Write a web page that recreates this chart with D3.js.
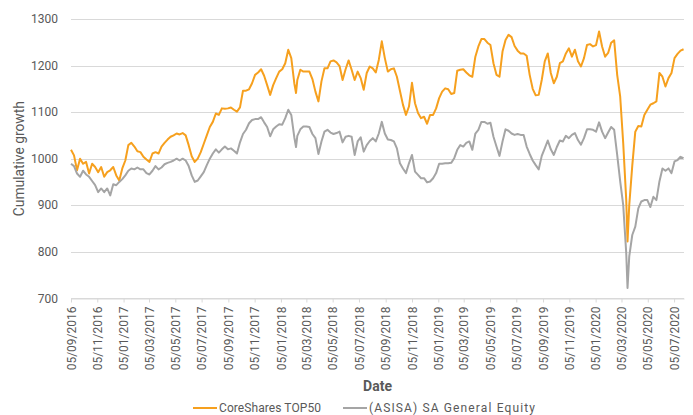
<!DOCTYPE html>
<html lang="en">
<head>
<meta charset="utf-8">
<title>Cumulative growth</title>
<script src="https://cdn.jsdelivr.net/npm/d3@7"></script>
<style>
  body { margin: 0; background: #fff; }
  text { font-family: Roboto, "DejaVu Sans", sans-serif; fill: #595959; }
</style>
</head>
<body>
<div id="chart"></div>
<script>

/*
 * Data (roughly weekly)
 */

var dates = [
  "2016-09-05","2016-09-12","2016-09-19","2016-09-26","2016-10-03","2016-10-10","2016-10-17","2016-10-24","2016-10-31",
  "2016-11-07","2016-11-14","2016-11-21","2016-11-28","2016-12-05","2016-12-12","2016-12-19","2016-12-26",
  "2017-01-02","2017-01-09","2017-01-16","2017-01-23","2017-01-30","2017-02-06","2017-02-13","2017-02-20","2017-02-27",
  "2017-03-06","2017-03-13","2017-03-20","2017-03-27","2017-04-03","2017-04-10","2017-04-17","2017-04-24",
  "2017-05-01","2017-05-08","2017-05-15","2017-05-22","2017-05-29","2017-06-05","2017-06-12","2017-06-19","2017-06-26",
  "2017-07-03","2017-07-10","2017-07-17","2017-07-24","2017-07-31","2017-08-07","2017-08-14","2017-08-21","2017-08-28",
  "2017-09-04","2017-09-11","2017-09-18","2017-09-25","2017-10-02","2017-10-09","2017-10-16","2017-10-23","2017-10-30",
  "2017-11-06","2017-11-13","2017-11-20","2017-11-27","2017-12-04","2017-12-11","2017-12-18","2017-12-25",
  "2018-01-01","2018-01-08","2018-01-15","2018-01-22","2018-01-29","2018-02-05","2018-02-09","2018-02-12","2018-02-19","2018-02-26",
  "2018-03-05","2018-03-12","2018-03-19","2018-03-26","2018-04-02","2018-04-09","2018-04-16","2018-04-23","2018-04-30",
  "2018-05-07","2018-05-14","2018-05-21","2018-05-28","2018-06-04","2018-06-11","2018-06-18","2018-06-25",
  "2018-07-02","2018-07-09","2018-07-16","2018-07-23","2018-07-30","2018-08-06","2018-08-13","2018-08-20","2018-08-27",
  "2018-09-03","2018-09-10","2018-09-17","2018-09-24","2018-10-01","2018-10-08","2018-10-15","2018-10-22","2018-10-29",
  "2018-11-05","2018-11-12","2018-11-19","2018-11-26","2018-12-03","2018-12-10","2018-12-17","2018-12-24","2018-12-31",
  "2019-01-07","2019-01-14","2019-01-21","2019-01-28","2019-02-04","2019-02-11","2019-02-18","2019-02-25",
  "2019-03-04","2019-03-11","2019-03-18","2019-03-25","2019-04-01","2019-04-08","2019-04-15","2019-04-22","2019-04-29",
  "2019-05-06","2019-05-13","2019-05-20","2019-05-27","2019-06-03","2019-06-10","2019-06-17","2019-06-24",
  "2019-07-01","2019-07-08","2019-07-15","2019-07-22","2019-07-29","2019-08-05","2019-08-12","2019-08-19","2019-08-26",
  "2019-09-02","2019-09-09","2019-09-16","2019-09-23","2019-09-30","2019-10-07","2019-10-14","2019-10-21","2019-10-28",
  "2019-11-04","2019-11-11","2019-11-18","2019-11-25","2019-12-02","2019-12-09","2019-12-16","2019-12-23","2019-12-30",
  "2020-01-06","2020-01-13","2020-01-20","2020-01-27","2020-02-03","2020-02-10","2020-02-17","2020-02-24",
  "2020-03-02","2020-03-09","2020-03-16","2020-03-19","2020-03-23","2020-03-30","2020-04-06","2020-04-13","2020-04-20","2020-04-27",
  "2020-05-04","2020-05-11","2020-05-18","2020-05-25","2020-06-01","2020-06-08","2020-06-15","2020-06-22","2020-06-29",
  "2020-07-06","2020-07-13","2020-07-20","2020-07-27"
];

var coreShares = [
  1019,1007,975,1000,989,993,968,989,982,
  971,982,961,971,975,982,964,953,
  979,996,1029,1034,1026,1016,1014,1004,998,
  993,1011,1014,1011,1026,1034,1041,1047,
  1050,1054,1052,1055,1050,1029,1005,993,1000,
  1014,1032,1050,1068,1079,1097,1094,1108,1107,
  1108,1110,1105,1101,1110,1146,1146,1149,1162,
  1180,1185,1192,1178,1158,1137,1158,1173,
  1187,1192,1205,1234,1216,1162,1141,1169,1191,1187,
  1187,1187,1171,1144,1123,1166,1194,1194,1209,
  1211,1207,1199,1169,1192,1211,1191,1169,
  1187,1173,1148,1184,1198,1194,1185,1212,1252,
  1216,1187,1192,1194,1176,1146,1116,1094,1112,
  1163,1119,1098,1087,1090,1075,1094,1094,1108,
  1130,1144,1151,1149,1139,1141,1189,1191,
  1192,1185,1179,1176,1219,1241,1257,1257,1249,
  1244,1205,1180,1176,1230,1255,1266,1261,
  1242,1232,1226,1226,1221,1180,1150,1136,1137,
  1169,1209,1226,1184,1162,1176,1205,1209,1226,
  1237,1219,1234,1209,1198,1216,1244,1246,1241,
  1244,1273,1241,1219,1227,1249,1254,1180,
  1133,1033,911,822,900,985,1058,1070,1069,1094,
  1105,1116,1119,1123,1184,1176,1155,1173,1184,
  1216,1225,1232,1235
];

var asisaEquity = [
  989,984,968,961,974,966,961,952,943,
  928,936,928,936,921,945,943,950,
  956,964,974,979,977,981,977,977,969,
  966,974,984,977,981,988,991,993,
  996,1000,996,1000,996,984,964,950,953,
  962,971,986,1000,1011,1020,1013,1020,1026,
  1020,1022,1017,1011,1035,1053,1062,1076,1083,
  1085,1085,1089,1078,1068,1048,1063,1069,
  1074,1073,1087,1105,1094,1046,1025,1049,1063,1069,
  1069,1068,1053,1044,1010,1037,1058,1062,1056,
  1053,1055,1058,1035,1047,1049,1047,1008,
  1037,1046,1015,1029,1038,1044,1037,1054,1079,
  1054,1041,1040,1037,1022,990,979,969,990,
  1008,972,965,958,958,949,951,958,969,
  989,989,990,990,991,1001,1019,1029,
  1026,1034,1037,1019,1054,1062,1079,1079,1075,
  1077,1047,1026,1006,1037,1063,1060,1054,
  1051,1053,1051,1051,1026,1010,996,986,977,
  1006,1022,1039,1020,1008,1025,1039,1037,1049,
  1044,1051,1055,1040,1030,1044,1063,1063,1062,
  1058,1078,1058,1044,1056,1068,1062,1008,
  951,900,797,722,790,836,854,893,908,911,
  911,896,918,911,951,979,974,979,969,
  994,997,1004,1001
];

var seriesNames  = ["CoreShares TOP50", "(ASISA) SA General Equity"];
var seriesColors = ["#f6a01e", "#a5a5a5"];

var yTicks = [700, 800, 900, 1000, 1100, 1200, 1300];

var xTickLabels = [
  "05/09/2016","05/11/2016","05/01/2017","05/03/2017","05/05/2017","05/07/2017","05/09/2017","05/11/2017",
  "05/01/2018","05/03/2018","05/05/2018","05/07/2018","05/09/2018","05/11/2018","05/01/2019","05/03/2019",
  "05/05/2019","05/07/2019","05/09/2019","05/11/2019","05/01/2020","05/03/2020","05/05/2020","05/07/2020"
];

/*
 * Frame
 */

var w = 693,
    h = 415;

var plotLeft = 71, plotRight = 684, plotTop = 19, plotBottom = 298.3;

var parseDate = d3.timeParse("%Y-%m-%d");
var parseTick = d3.timeParse("%d/%m/%Y");

var svg = d3.select("#chart")
  .append("svg")
  .attr("width", w)
  .attr("height", h);

var xScale = d3.scaleTime()
  .domain([parseTick(xTickLabels[0]), parseDate("2020-07-28")])
  .range([plotLeft, plotRight]);

var yScale = d3.scaleLinear()
  .domain([700, 1300])
  .range([plotBottom, plotTop]);

// horizontal gridlines
svg.append("g")
  .selectAll("line")
  .data(yTicks)
  .enter()
  .append("line")
  .attr("x1", plotLeft)
  .attr("x2", plotRight)
  .attr("y1", function(d) { return Math.round(yScale(d)) + 0.5; })
  .attr("y2", function(d) { return Math.round(yScale(d)) + 0.5; })
  .style("stroke", "#d9d9d9")
  .style("stroke-width", 1);

// y labels
svg.append("g")
  .selectAll("text")
  .data(yTicks)
  .enter()
  .append("text")
  .attr("x", 58)
  .attr("y", function(d) { return yScale(d); })
  .attr("dy", "0.35em")
  .attr("text-anchor", "end")
  .style("font-size", "12px")
  .text(function(d) { return d; });

// x axis
var xAxis = d3.axisBottom(xScale)
  .tickValues(xTickLabels.map(parseTick))
  .tickFormat(d3.timeFormat("%d/%m/%Y"))
  .tickSize(4)
  .tickSizeOuter(0);

var gX = svg.append("g")
  .attr("transform", "translate(0," + (Math.round(plotBottom) + 0.5) + ")")
  .call(xAxis);

gX.select(".domain").style("stroke", "#d9d9d9");
gX.selectAll(".tick line").style("stroke", "#d9d9d9");
gX.selectAll(".tick text")
  .attr("transform", "rotate(-90)")
  .attr("x", -8)
  .attr("y", 0)
  .attr("dy", "0.35em")
  .attr("text-anchor", "end")
  .style("font-family", "Roboto, sans-serif")
  .style("font-size", "12px")
  .style("fill", "#595959");

// axis titles
svg.append("text")
  .attr("transform", "translate(19," + ((plotTop + plotBottom) / 2) + ") rotate(-90)")
  .attr("text-anchor", "middle")
  .attr("dy", "0.35em")
  .style("font-size", "13.8px")
  .text("Cumulative growth");

svg.append("text")
  .attr("x", (plotLeft + plotRight) / 2)
  .attr("y", 391)
  .attr("text-anchor", "middle")
  .style("font-size", "14px")
  .style("font-weight", "bold")
  .text("Date");

/*
 * Lines
 */

var line = d3.line()
  .x(function(d) { return xScale(d.date); })
  .y(function(d) { return yScale(d.value); });

[coreShares, asisaEquity].forEach(function(values, i) {
  var pts = dates.map(function(s, j) { return { date: parseDate(s), value: values[j] }; });
  svg.append("path")
    .datum(pts)
    .attr("d", line)
    .style("fill", "none")
    .style("stroke", seriesColors[i])
    .style("stroke-width", 2)
    .style("stroke-linejoin", "round");
});

/*
 * Legend
 */

var legendX = [193, 343];
var legendTextWidth = [102, 166];

seriesNames.forEach(function(name, i) {
  var g = svg.append("g").attr("transform", "translate(" + legendX[i] + ",408)");
  g.append("line")
    .attr("x1", 0).attr("x2", 24)
    .attr("y1", 0).attr("y2", 0)
    .style("stroke", seriesColors[i])
    .style("stroke-width", 2);
  g.append("text")
    .attr("x", 26)
    .attr("dy", "0.35em")
    .attr("textLength", legendTextWidth[i])
    .attr("lengthAdjust", "spacing")
    .style("font-size", "12px")
    .text(name);
});

</script>
</body>
</html>
